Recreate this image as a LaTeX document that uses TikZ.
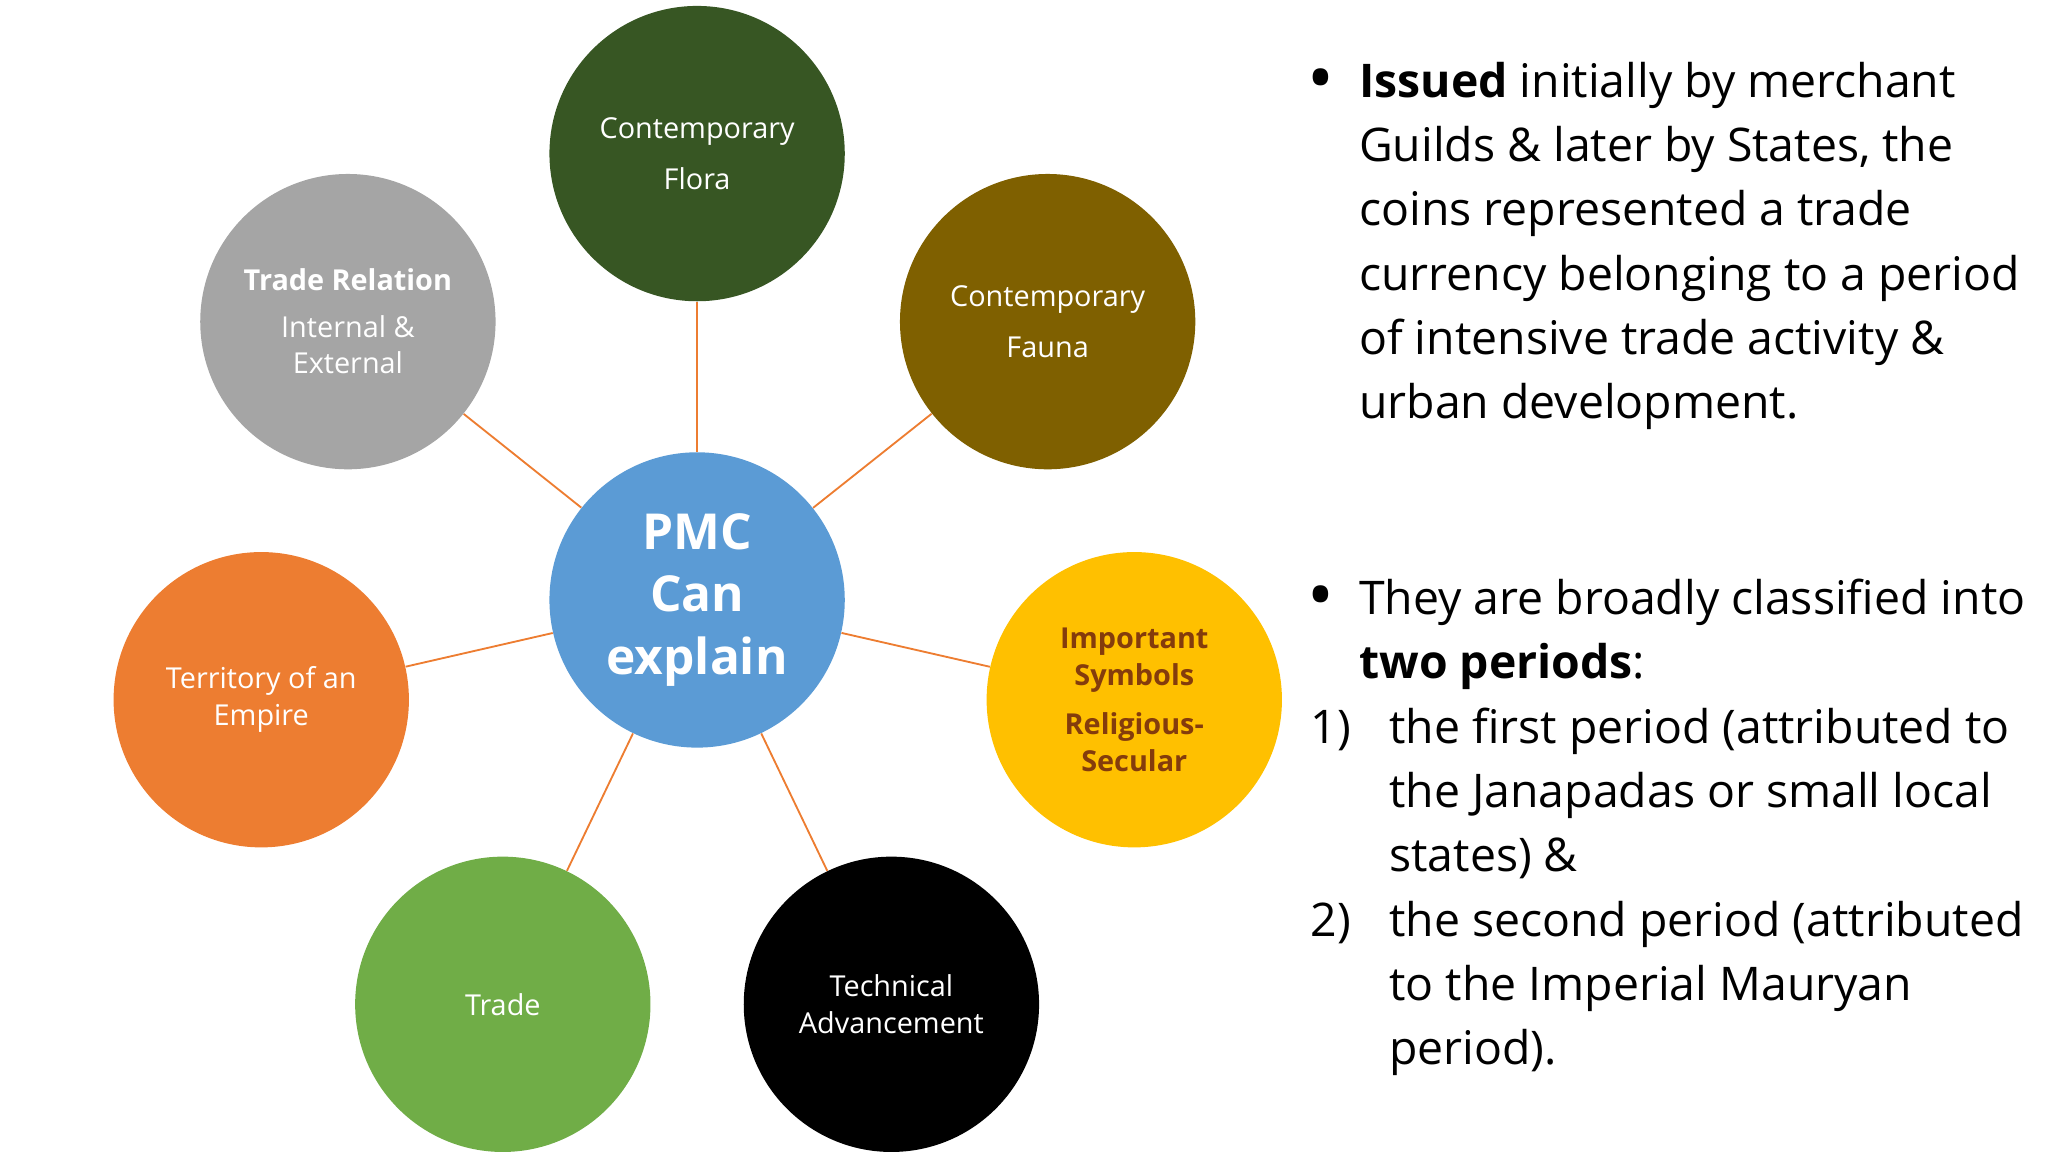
\documentclass[tikz,border=0pt]{standalone}
\usepackage{fontspec}
\setmainfont{Open Sans}
\definecolor{cline}{HTML}{ED7D31}
\definecolor{cflora}{HTML}{375623}
\definecolor{cfauna}{HTML}{7F6000}
\definecolor{crel}{HTML}{A5A5A5}
\definecolor{csym}{HTML}{FFC000}
\definecolor{csymt}{HTML}{843C0C}
\definecolor{cterr}{HTML}{ED7D31}
\definecolor{ctrade}{HTML}{70AD47}
\definecolor{cpmc}{HTML}{5B9BD5}
\begin{document}
\begin{tikzpicture}[x=0.02cm,y=-0.02cm,
  bub/.style={circle,minimum size=4.5cm,inner sep=0pt,align=center,text=white,font=\fontsize{12.5}{16}\selectfont},
  con/.style={draw=cline,line width=0.8pt},
  bt/.style={anchor=base west,inner sep=0pt,font=\fontsize{20.1}{26}\selectfont}]
\useasboundingbox (0,0) rectangle (1560,878);
\node[bub,fill=cpmc,font=\bfseries\fontsize{21.5}{27}\selectfont] (pmc) at (531,457) {PMC\\Can\\explain};
\node[bub,fill=cflora,font=\fontsize{12.5}{22}\selectfont] (flora) at (531,117) {Contemporary\\Flora};
\node[bub,fill=cfauna,font=\fontsize{12.5}{22}\selectfont] (fauna) at (798,245) {Contemporary\\Fauna};
\node[bub,fill=crel] (rel) at (265,245) {\textbf{Trade Relation}\\[4pt]Internal \&\\External};
\node[bub,fill=csym,text=csymt,font=\bfseries\fontsize{12.5}{16}\selectfont] (sym) at (864,533) {Important\\Symbols\\[5pt]Religious-\\Secular};
\node[bub,fill=cterr] (terr) at (199,533) {Territory of an\\Empire};
\node[bub,fill=ctrade] (trade) at (383,765) {Trade};
\node[bub,fill=black] (tech) at (679,765) {Technical\\Advancement};
\foreach \n in {flora,fauna,rel,sym,terr,trade,tech} \draw[con] (pmc) -- (\n);
\node[bt,font=\bfseries\fontsize{24}{26}\selectfont] (b1) at (998,74) {•};
\node[bt] (l1) at (1035,74) {\textbf{Issued} initially by merchant};
\node[bt] (l2) at (1035,123) {Guilds \& later by States, the};
\node[bt] (l3) at (1035,172) {coins represented a trade};
\node[bt] (l4) at (1035,221) {currency belonging to a period};
\node[bt] (l5) at (1035,270) {of intensive trade activity \&};
\node[bt] (l6) at (1035,319) {urban development.};
\node[bt,font=\bfseries\fontsize{24}{26}\selectfont] (b2) at (998,468) {•};
\node[bt] (m1) at (1035,468) {They are broadly classified into};
\node[bt] (m2) at (1035,517) {\textbf{two periods}:};
\node[bt] (n1) at (998,566) {1)};
\node[bt] (m3) at (1058,566) {the first period (attributed to};
\node[bt] (m4) at (1058,615) {the Janapadas or small local};
\node[bt] (m5) at (1058,664) {states) \&};
\node[bt] (n2) at (998,713) {2)};
\node[bt] (m6) at (1058,713) {the second period (attributed};
\node[bt] (m7) at (1058,762) {to the Imperial Mauryan};
\node[bt] (m8) at (1058,811) {period).};
\end{tikzpicture}
\end{document}
